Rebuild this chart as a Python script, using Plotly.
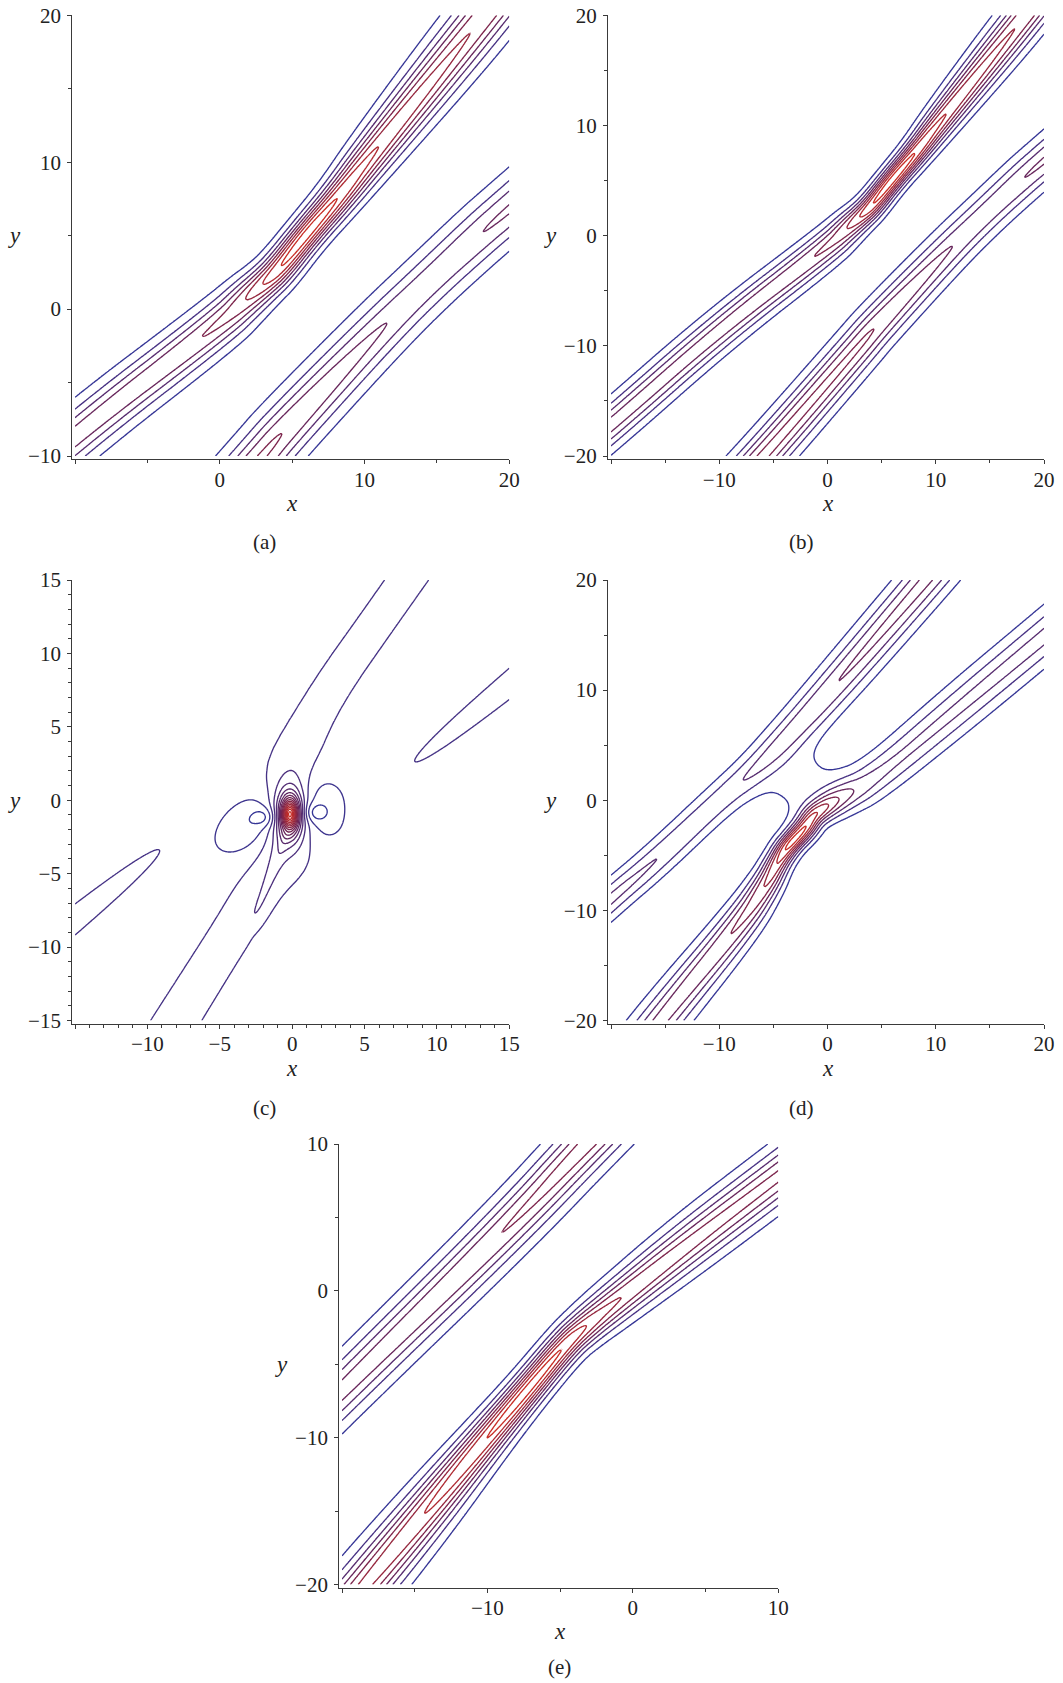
import numpy as np
import plotly.graph_objects as go

W, H = 1063, 1683
FONT = "Liberation Serif, DejaVu Serif, serif"

# ================= data =================
# Every band: ridge line (x, y), amplitude along it (in contour-level units) and width.
# Panels (a) and (b) show the same field on different windows.
AB_UP_X = [-26.0, -20.0, -10.0, 0.0, 1.9, 3.0, 4.07, 6.0, 8.2, 10.5, 16.7, 20.0, 26.0]
AB_UP_Y = [-22.1, -17.2, -8.55, -1.0, 0.75, 1.7, 2.7, 5.1, 7.6, 10.5, 18.05, 22.1, 29.4]
AB_UP_A = [4.4, 4.45, 4.5, 4.95, 6.0, 7.0, 8.0, 8.7, 8.0, 7.0, 6.0, 5.85, 5.8]
AB_UP_W = [1.55, 1.55, 1.52, 1.4, 1.2, 1.05, 0.98, 0.92, 1.0, 1.2, 1.55, 1.58, 1.6]

AB_LO_X = [-10.0, -5.9, 2.95, 4.4, 11.15, 14.6, 18.1, 20.0, 26.0]
AB_LO_Y = [-24.3, -20.0, -10.0, -8.3, -1.3, 2.0, 5.2, 6.8, 11.9]
AB_LO_A = [5.4, 5.3, 5.15, 5.0, 4.0, 3.75, 4.0, 4.1, 4.2]
AB_LO_W = [1.7, 1.7, 1.65, 1.65, 1.65, 1.65, 1.65, 1.65, 1.65]

# Panel (c): lump with side lobes, a band through it, two rays
C_BAND_X = [-11.2, -8.0, -1.8, -0.4, 0.62, 7.9, 11.5]
C_BAND_Y = [-20.0, -15.0, -5.2, -0.95, 4.8, 15.0, 20.0]
C_BAND_A = [0.75, 0.75, 0.75, 0.7, 0.75, 0.75, 0.75]
C_BAND_W = [2.3, 2.27, 1.9, 1.2, 1.8, 1.87, 1.87]
C_TONGUE_X = [-0.5, -1.6, -2.6, -3.3]
C_TONGUE_Y = [-2.5, -5.5, -7.9, -8.9]
C_TONGUE_A = [1.0, 0.95, 0.88, 0.0]
C_TONGUE_W = [0.5, 0.48, 0.42, 0.35]
C_RAY1_X = [-26.0, -15.0, -8.8, -2.0]
C_RAY1_Y = [-16.9, -8.1, -3.1, 2.4]
C_RAY1_A = [0.95, 0.75, 0.5, 0.0]
C_RAY2_X = [1.5, 8.0, 15.0, 26.0]
C_RAY2_Y = [-3.0, 2.25, 7.9, 16.8]
C_RAY2_A = [0.0, 0.5, 0.75, 0.95]
C_RAY_W = 1.3
C_CORE = dict(cx=-0.15, cy=-0.95, sx=0.7, sy=1.3, amp=15.0, p=1.5)
# lobes: (cx, cy, sx, sy, angle, amp)
C_LOBES = [(-2.95, -1.6, 1.95, 1.25, 35.0, -1.6),
           (-1.9, -1.15, 0.6, 0.45, 0.0, -1.35),
           (2.1, -0.6, 1.25, 1.55, 10.0, -1.6),
           (1.5, -0.85, 0.55, 0.45, 0.0, -1.35)]

# Panel (d): two bent bands joined by a waist
D_LO_X = [-19.8, -15.5, -8.0, -5.7, -4.6, -3.9, -3.2, -2.1, -1.3, -0.2, 1.5, 4.15, 12.0, 20.0, 26.0]
D_LO_Y = [-25.5, -20.0, -11.1, -7.7, -5.6, -4.5, -3.7, -2.55, -1.4, -0.6, 0.4, 1.8, 8.3, 14.85, 19.8]
D_LO_A = [4.3, 4.35, 5.0, 6.0, 7.0, 8.0, 8.5, 8.0, 7.0, 6.0, 4.3, 3.1, 3.2, 3.3, 3.3]
D_LO_W = [1.8, 1.8, 1.5, 1.2, 1.0, 0.95, 0.9, 0.95, 1.0, 1.1, 1.4, 1.7, 1.9, 1.9, 1.9]
D_UP_X = [-26.0, -20.0, -16.0, -10.0, -6.8, -3.66, -0.06, 9.1, 13.0]
D_UP_Y = [-14.3, -8.9, -5.6, 0.0, 2.7, 5.8, 9.57, 20.0, 24.5]
D_UP_A = [3.3, 3.3, 3.0, 2.7, 3.0, 3.5, 4.0, 4.3, 4.3]
D_UP_W = [1.35, 1.35, 1.4, 1.45, 1.5, 1.6, 1.7, 1.78, 1.78]
D_WAIST = (-2.5, 1.6, 2.75, 2.0, 38.0, 1.15)

# Panel (e)
E_UP_X = [-25.0, -20.0, -8.4, -3.2, 2.0]
E_UP_Y = [-11.75, -6.75, 4.5, 10.0, 15.2]
E_UP_A = [4.3, 4.4, 5.0, 5.5, 5.7]
E_UP_W = [1.55, 1.55, 1.55, 1.55, 1.55]
E_LO_X = [-22.5, -18.4, -14.1, -10.1, -7.3, -4.6, -3.25, -1.5, 4.0, 10.0, 16.0]
E_LO_Y = [-24.8, -20.0, -14.9, -10.1, -6.8, -3.6, -2.4, -1.0, 3.3, 7.8, 12.3]
E_LO_A = [6.0, 6.3, 7.0, 8.0, 8.6, 8.0, 7.0, 6.0, 5.4, 5.2, 5.2]
E_LO_W = [1.6, 1.6, 1.4, 1.1, 0.95, 0.95, 1.05, 1.2, 1.45, 1.5, 1.5]

# axis windows and ticks
PANELS = {
    "a": dict(xr=(-10, 20), yr=(-10, 20), xt=[-10, 0, 10, 20], yt=[-10, 0, 10, 20], xm=5, ym=5),
    "b": dict(xr=(-20, 20), yr=(-20, 20), xt=[-20, -10, 0, 10, 20], yt=[-20, -10, 0, 10, 20], xm=5, ym=5),
    "c": dict(xr=(-15, 15), yr=(-15, 15), xt=[-15, -10, -5, 0, 5, 10, 15], yt=[-15, -10, -5, 0, 5, 10, 15], xm=1, ym=1),
    "d": dict(xr=(-20, 20), yr=(-20, 20), xt=[-20, -10, 0, 10, 20], yt=[-20, -10, 0, 10, 20], xm=5, ym=5),
    "e": dict(xr=(-20, 10), yr=(-20, 10), xt=[-20, -10, 0, 10], yt=[-20, -10, 0, 10], xm=5, ym=5),
}
# pixel boxes: (left axis line, first x tick, right end, top, last y tick, bottom axis line)
BOX = {
    "a": (72.3, 75.0, 509.3, 15.3, 456.0, 459.3),
    "b": (608.0, 611.0, 1044.0, 15.3, 456.0, 459.3),
    "c": (72.3, 75.0, 509.3, 580.0, 1020.5, 1024.0),
    "d": (608.0, 611.0, 1044.0, 580.0, 1020.5, 1024.0),
    "e": (339.3, 342.0, 778.3, 1144.0, 1584.5, 1587.5),
}
LABELS = {"a": (264, 542), "b": (801, 542), "c": (264, 1108), "d": (801, 1108), "e": (559, 1667)}

COLORSCALE = [[0.0, "rgb(54,54,150)"], [0.5, "rgb(112,36,82)"], [1.0, "rgb(200,46,38)"]]


# ================= helpers =================
def chaikin(px, py, pa, pw, n_iter=3):
    P = np.column_stack([px, py, pa, pw]).astype(float)
    for _ in range(n_iter):
        Q = 0.75 * P[:-1] + 0.25 * P[1:]
        R = 0.25 * P[:-1] + 0.75 * P[1:]
        M = np.empty((2 * len(Q), 4))
        M[0::2] = Q
        M[1::2] = R
        P = np.vstack([P[:1], M, P[-1:]])
    return P


def band(X, Y, px, py, pa, pw):
    if np.isscalar(pw):
        pw = [pw] * len(px)
    P = chaikin(px, py, pa, pw)
    best = np.full(X.shape, np.inf)
    A = np.zeros(X.shape)
    Wd = np.ones(X.shape)
    for i in range(len(P) - 1):
        x0, y0, a0, w0 = P[i]
        x1, y1, a1, w1 = P[i + 1]
        dx, dy = x1 - x0, y1 - y0
        L2 = dx * dx + dy * dy
        if L2 <= 0:
            continue
        t = np.clip(((X - x0) * dx + (Y - y0) * dy) / L2, 0.0, 1.0)
        d2 = (X - x0 - t * dx) ** 2 + (Y - y0 - t * dy) ** 2
        m = d2 < best
        best = np.where(m, d2, best)
        A = np.where(m, a0 + t * (a1 - a0), A)
        Wd = np.where(m, w0 + t * (w1 - w0), Wd)
    return A / np.cosh(np.sqrt(best) / Wd) ** 2


def gauss(X, Y, cx, cy, sx, sy, ang, amp):
    th = np.deg2rad(ang)
    u = (X - cx) * np.cos(th) + (Y - cy) * np.sin(th)
    v = -(X - cx) * np.sin(th) + (Y - cy) * np.cos(th)
    return amp * np.exp(-0.5 * ((u / sx) ** 2 + (v / sy) ** 2))


def core(X, Y, cx, cy, sx, sy, amp, p):
    return amp / (1.0 + ((X - cx) / sx) ** 2 + ((Y - cy) / sy) ** 2) ** p


def mesh(xr, yr, step):
    xs = np.arange(xr[0], xr[1] + step / 2, step)
    ys = np.arange(yr[0], yr[1] + step / 2, step)
    X, Y = np.meshgrid(xs, ys)
    return xs, ys, X, Y


# ================= fields =================
fields = {}
for key, step in (("a", 0.1), ("b", 0.125)):
    xs, ys, X, Y = mesh(PANELS[key]["xr"], PANELS[key]["yr"], step)
    Z = band(X, Y, AB_UP_X, AB_UP_Y, AB_UP_A, AB_UP_W) + band(X, Y, AB_LO_X, AB_LO_Y, AB_LO_A, AB_LO_W)
    fields[key] = (xs, ys, Z, 1, 8)

xs, ys, X, Y = mesh(PANELS["c"]["xr"], PANELS["c"]["yr"], 0.05)
Z = (band(X, Y, C_BAND_X, C_BAND_Y, C_BAND_A, C_BAND_W)
     + band(X, Y, C_TONGUE_X, C_TONGUE_Y, C_TONGUE_A, C_TONGUE_W)
     + band(X, Y, C_RAY1_X, C_RAY1_Y, C_RAY1_A, C_RAY_W)
     + band(X, Y, C_RAY2_X, C_RAY2_Y, C_RAY2_A, C_RAY_W)
     + core(X, Y, **C_CORE))
for lb in C_LOBES:
    Z = Z + gauss(X, Y, *lb)
fields["c"] = (xs, ys, Z, -1.5, 14.5)

xs, ys, X, Y = mesh(PANELS["d"]["xr"], PANELS["d"]["yr"], 0.125)
Z = (band(X, Y, D_LO_X, D_LO_Y, D_LO_A, D_LO_W) + band(X, Y, D_UP_X, D_UP_Y, D_UP_A, D_UP_W)
     + gauss(X, Y, *D_WAIST))
fields["d"] = (xs, ys, Z, 1, 8)

xs, ys, X, Y = mesh(PANELS["e"]["xr"], PANELS["e"]["yr"], 0.1)
Z = band(X, Y, E_UP_X, E_UP_Y, E_UP_A, E_UP_W) + band(X, Y, E_LO_X, E_LO_Y, E_LO_A, E_LO_W)
fields["e"] = (xs, ys, Z, 1, 8)


# ================= figure =================
def fmt(v):
    return ("\u2212" + str(abs(int(v)))) if v < 0 else str(int(v))


fig = go.Figure()
layout = dict(width=W, height=H, margin=dict(l=0, r=0, t=0, b=0, pad=0, autoexpand=False),
              paper_bgcolor="white", plot_bgcolor="white", showlegend=False,
              font=dict(family=FONT, color="#222"))
annotations = []

for i, key in enumerate(["a", "b", "c", "d", "e"]):
    xs, ys, Z, lo, hi = fields[key]
    ax = "" if i == 0 else str(i + 1)
    fig.add_trace(go.Contour(
        x=xs, y=ys, z=Z.astype(np.float32), xaxis="x" + ax, yaxis="y" + ax,
        autocontour=False, contours=dict(start=lo, end=hi, size=1, coloring="lines"),
        colorscale=COLORSCALE, zmin=lo, zmax=hi, showscale=False,
        line=dict(width=1.35, smoothing=0.8), hoverinfo="skip"))

    p = PANELS[key]
    xl, xt0, xr_, yt, yb0, yb = BOX[key]
    xspan = p["xr"][1] - p["xr"][0]
    yspan = p["yr"][1] - p["yr"][0]
    xpu = (xr_ - xt0) / xspan
    ypu = (yb0 - yt) / yspan
    xrange = [p["xr"][0] - (xt0 - xl) / xpu, p["xr"][1]]
    yrange = [p["yr"][0] - (yb - yb0) / ypu, p["yr"][1]]
    common = dict(showline=True, linecolor="#3a3a3a", linewidth=1.3, mirror=False,
                  ticks="outside", ticklen=4, tickwidth=1.2, tickcolor="#3a3a3a",
                  showgrid=False, zeroline=False, tickmode="array",
                  tickfont=dict(family=FONT, size=21, color="#222"))
    layout["xaxis" + ax] = dict(common, range=xrange, domain=[xl / W, xr_ / W], anchor="y" + ax,
                                ticklabelstandoff=-3,
                                tickvals=p["xt"], ticktext=[""] + [fmt(v) for v in p["xt"][1:]],
                                minor=dict(tickmode="linear", tick0=0, dtick=p["xm"], ticks="outside",
                                           ticklen=3, tickwidth=1, tickcolor="#3a3a3a", showgrid=False))
    layout["yaxis" + ax] = dict(common, range=yrange, domain=[1 - yb / H, 1 - yt / H], anchor="x" + ax,
                                ticklabelstandoff=2,
                                tickvals=p["yt"], ticktext=[fmt(v) for v in p["yt"]],
                                minor=dict(tickmode="linear", tick0=0, dtick=p["ym"], ticks="outside",
                                           ticklen=3, tickwidth=1, tickcolor="#3a3a3a", showgrid=False))
    cx = (xt0 + xr_) / 2
    cy = (yt + yb0) / 2
    annotations.append(dict(text="<i>x</i>", x=cx / W, y=1 - (yb + 44) / H, xref="paper", yref="paper",
                            showarrow=False, xanchor="center", yanchor="middle",
                            font=dict(family=FONT, size=23, color="#222")))
    annotations.append(dict(text="<i>y</i>", x=(xl - 58) / W, y=1 - cy / H, xref="paper", yref="paper",
                            showarrow=False, xanchor="center", yanchor="middle",
                            font=dict(family=FONT, size=23, color="#222")))
    lx, ly = LABELS[key]
    annotations.append(dict(text="(" + key + ")", x=lx / W, y=1 - ly / H, xref="paper", yref="paper",
                            showarrow=False, xanchor="center", yanchor="middle",
                            font=dict(family=FONT, size=21, color="#222")))

layout["annotations"] = annotations
fig.update_layout(**layout)
fig.write_html("out.html")
